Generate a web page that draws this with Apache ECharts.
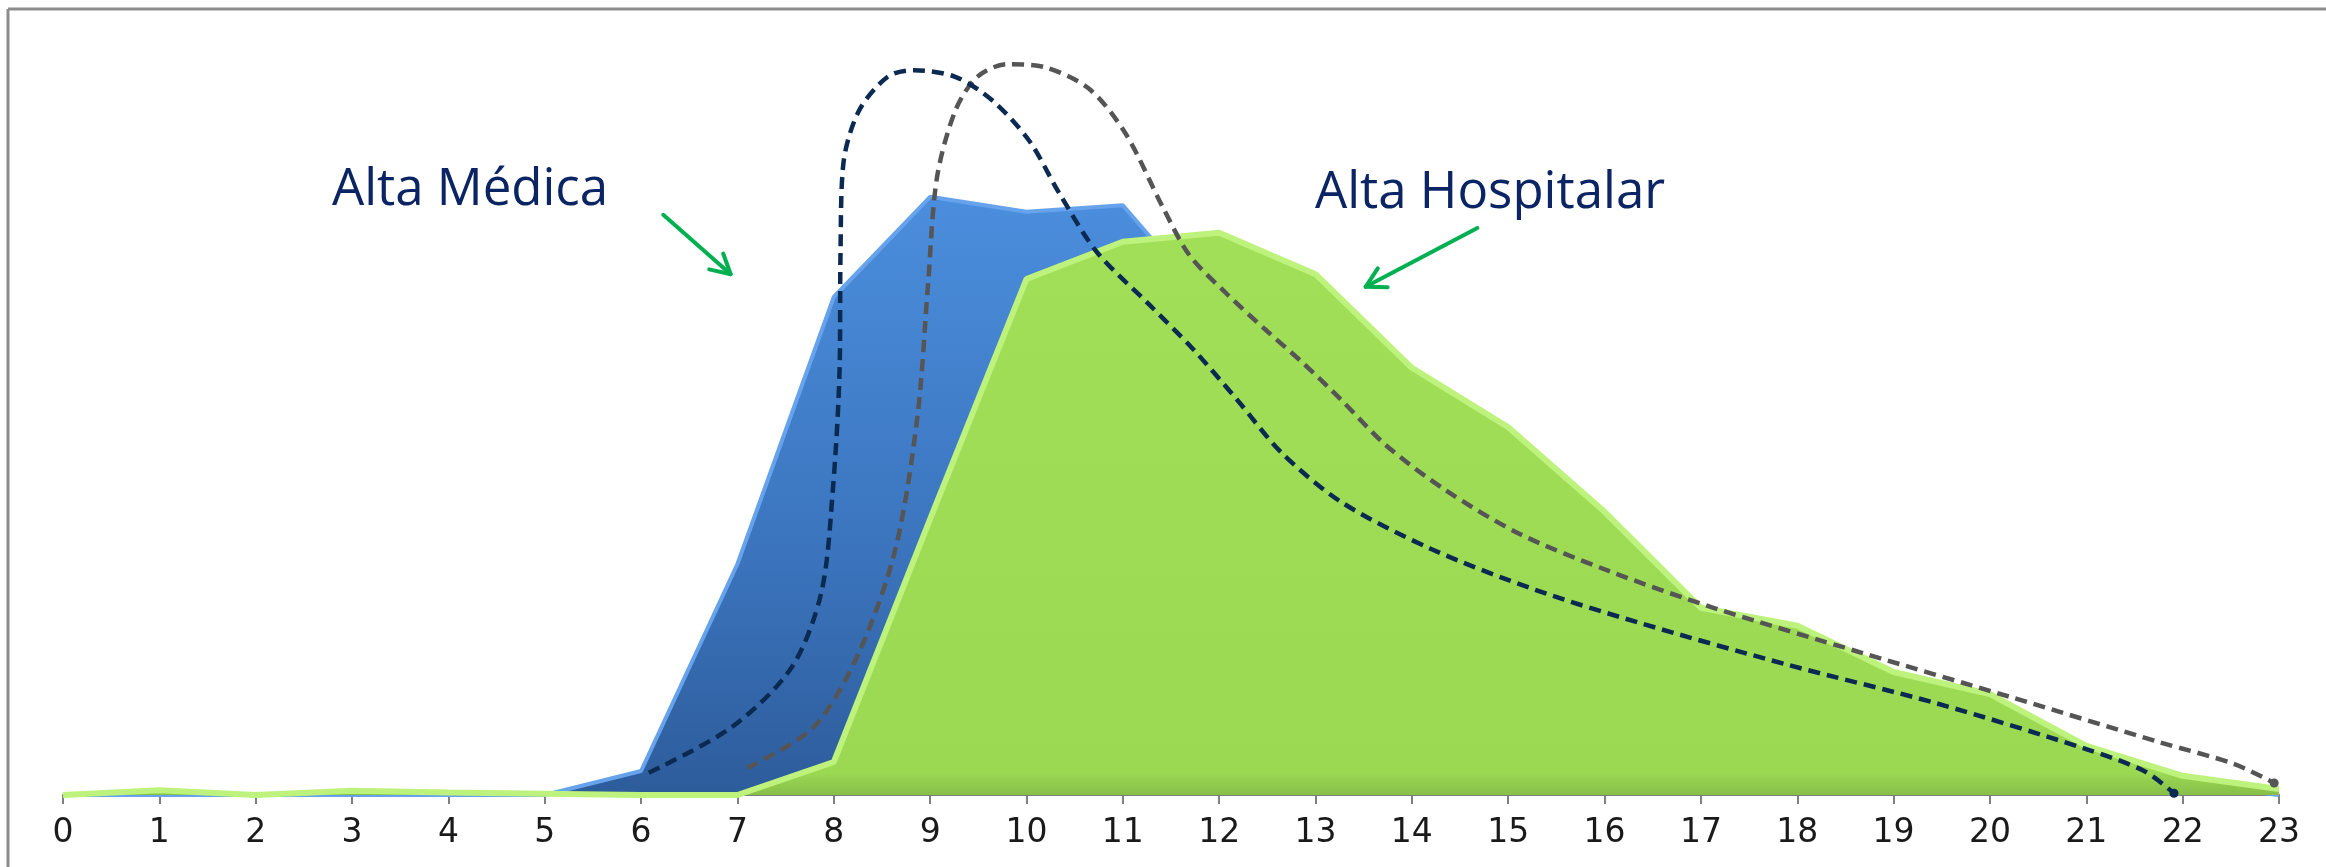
<!DOCTYPE html>
<html>
<head>
<meta charset="utf-8">
<script src="https://cdn.jsdelivr.net/npm/echarts@6/dist/echarts.min.js"></script>
<style>
  html, body { margin: 0; padding: 0; background: #fff; }
  #chart { width: 2326px; height: 867px; }
</style>
</head>
<body>
<div id="chart"></div>
<script>
// horas do dia
const hours = [0, 1, 2, 3, 4, 5, 6, 7, 8, 9, 10, 11, 12, 13, 14, 15, 16, 17, 18, 19, 20, 21, 22, 23]
const hourLabels = hours.map(String)

// altas por hora (escala arbitrária)
const altaMedica = [0, 0, 0, 0, 0, 0, 4, 38.5, 83, 99.7, 97.2, 98.3, 79.7, 63.3, 50, 40, 31.7, 23.3, 18.3, 13.3, 10, 5.8, 2, 0]
const altaHospitalar = [0, 0.8, 0, 0.7, 0.4, 0.2, 0, 0, 5.5, 46, 86, 92.2, 93.7, 86.8, 71.2, 61.3, 47.2, 31.2, 28.2, 20.5, 16.8, 8.2, 3.2, 1]

// curvas tracejadas desenhadas à mão [hora, valor]
const curvaMedica = [
  [6.08, 3.7], [6.94, 11.3], [7.56, 21.2], [7.87, 33.7], [7.99, 50.8], [8.06, 70.7],
  [8.07, 90.5], [8.1, 105.3], [8.26, 114], [8.56, 119.7], [8.83, 120.8], [9.26, 119.7],
  [9.65, 115.7], [10.03, 109], [10.34, 100.3], [10.73, 90.5], [11.27, 81.8], [11.73, 74.3],
  [12.19, 65.8], [12.65, 57], [13.27, 48.8], [14.2, 41], [15.28, 34.2], [16.36, 28.7],
  [17.9, 21.7], [19.44, 15.3], [20.99, 7.7], [21.6, 4], [21.91, 0.3]
]
const curvaHospitalar = [
  [7.1, 4.5], [7.79, 11.3], [8.26, 23.7], [8.64, 41], [8.87, 63.3], [8.98, 85.5],
  [9.07, 102.8], [9.26, 114], [9.49, 119.7], [9.8, 121.8], [10.19, 121.3], [10.65, 117.7],
  [11.03, 110.2], [11.42, 97.8], [11.69, 90], [12.08, 83.5], [12.47, 77.7], [12.87, 72],
  [13.27, 65.8], [13.73, 58.3], [14.35, 50.8], [15.12, 43.5], [16.05, 37.3], [17.13, 31.2],
  [18.67, 23.7], [20.22, 16.3], [21.76, 8.8], [22.53, 5.2], [22.95, 2]
]

// setas das anotações [hora, valor]: cauda, ponta
const setaMedica = [[6.23, 96.7], [6.93, 86.8]]
const setaHospitalar = [[14.68, 94.5], [13.52, 84.7]]

const chart = echarts.init(document.getElementById('chart'))

function pairs(vals) {
  return hours.map((h, i) => [h, vals[i]])
}
function withEndDot(pts) {
  return pts.map((p, i) => i === pts.length - 1
    ? { value: p, symbol: 'circle', symbolSize: 9 }
    : p)
}

const option = {
  animation: false,
  grid: { left: 63, right: 47, top: 9, bottom: 72 },
  xAxis: {
    type: 'value',
    min: 0,
    max: 23,
    interval: 1,
    axisLine: { lineStyle: { color: '#7f7f7f', width: 2 } },
    axisTick: { show: true, length: 9, lineStyle: { color: '#7f7f7f', width: 2 } },
    axisLabel: {
      color: '#1a1a1a',
      fontSize: 33,
      fontFamily: 'DejaVu Sans',
      margin: 22,
      formatter: (v) => hourLabels[v]
    },
    splitLine: { show: false }
  },
  yAxis: { type: 'value', min: 0, max: 131, show: false, splitLine: { show: false } },
  series: [
    {
      name: 'Alta Médica',
      type: 'line',
      data: pairs(altaMedica),
      symbol: 'none',
      z: 2,
      lineStyle: { color: '#66a3ec', width: 4 },
      areaStyle: {
        opacity: 1,
        color: new echarts.graphic.LinearGradient(0, 0, 0, 1, [
          { offset: 0, color: '#4b8edd' },
          { offset: 0.6, color: '#3b74bd' },
          { offset: 1, color: '#2d5c9b' }
        ])
      }
    },
    {
      name: 'Alta Hospitalar',
      type: 'line',
      data: pairs(altaHospitalar),
      symbol: 'none',
      z: 3,
      lineStyle: { color: '#bdf27c', width: 6 },
      areaStyle: {
        opacity: 1,
        color: new echarts.graphic.LinearGradient(0, 0, 0, 1, [
          { offset: 0, color: '#a2df58' },
          { offset: 0.96, color: '#9bd953' },
          { offset: 1, color: '#87bf49' }
        ])
      }
    },
    {
      type: 'line',
      data: withEndDot(curvaMedica),
      smooth: 0.3,
      symbol: 'none',
      z: 5,
      itemStyle: { color: '#0b2a52' },
      lineStyle: { color: '#0b2a52', width: 4.5, type: [12, 7] }
    },
    {
      type: 'line',
      data: withEndDot(curvaHospitalar),
      smooth: 0.3,
      symbol: 'none',
      z: 4,
      itemStyle: { color: '#555555' },
      lineStyle: { color: '#555555', width: 4.5, type: [12, 7] }
    }
  ],
  graphic: [
    { type: 'line', id: 'fTop', shape: { x1: 8, y1: 9, x2: 2326, y2: 9 }, style: { stroke: '#8c8c8c', lineWidth: 3 }, z: 10 },
    { type: 'line', id: 'fLeft', shape: { x1: 8, y1: 9, x2: 8, y2: 867 }, style: { stroke: '#8c8c8c', lineWidth: 3 }, z: 10 },
    {
      type: 'text', id: 'tMed', x: 470, y: 190, z: 10,
      style: { text: 'Alta Médica', fill: '#0b2463', font: '51px "Open Sans"', textAlign: 'center', textVerticalAlign: 'middle' }
    },
    {
      type: 'text', id: 'tHosp', x: 1490, y: 193, z: 10,
      style: { text: 'Alta Hospitalar', fill: '#0b2463', font: '51px "Open Sans"', textAlign: 'center', textVerticalAlign: 'middle' }
    }
  ]
}

chart.setOption(option)

// desenha as setas verdes a partir das coordenadas de dados
function arrow(id, seta) {
  const a = chart.convertToPixel({ gridIndex: 0 }, seta[0])
  const b = chart.convertToPixel({ gridIndex: 0 }, seta[1])
  const ang = Math.atan2(a[1] - b[1], a[0] - b[0])
  const len = 22, spread = 0.5
  const h1 = [b[0] + len * Math.cos(ang + spread), b[1] + len * Math.sin(ang + spread)]
  const h2 = [b[0] + len * Math.cos(ang - spread), b[1] + len * Math.sin(ang - spread)]
  const st = { stroke: '#00b050', lineWidth: 4, lineCap: 'round', lineJoin: 'round', fill: null }
  return [
    { type: 'polyline', id: id + 'L', z: 10, shape: { points: [a, b] }, style: st },
    { type: 'polyline', id: id + 'H', z: 10, shape: { points: [h1, b, h2] }, style: st }
  ]
}

chart.setOption({
  graphic: [...arrow('aMed', setaMedica), ...arrow('aHosp', setaHospitalar)]
})
</script>
</body>
</html>
